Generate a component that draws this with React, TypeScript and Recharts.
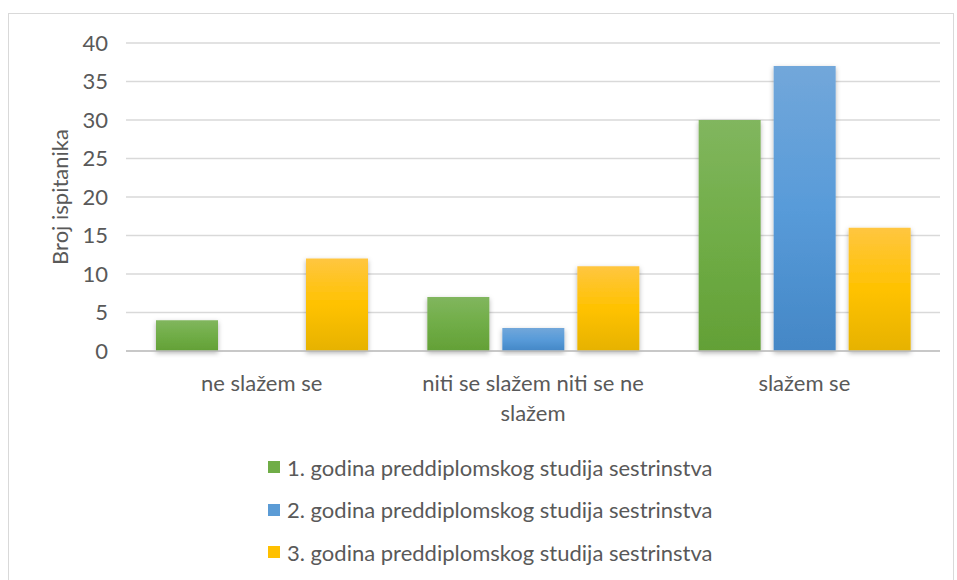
import { BarChart, Bar, XAxis, YAxis, CartesianGrid } from 'recharts';

const categories = ['ne slažem se', 'niti se slažem niti se ne slažem', 'slažem se'];
const prva = [4, 7, 30];
const druga = [0, 3, 37];
const treca = [12, 11, 16];
const seriesNames = [
  '1. godina preddiplomskog studija sestrinstva',
  '2. godina preddiplomskog studija sestrinstva',
  '3. godina preddiplomskog studija sestrinstva',
];
const yTicks = [0, 5, 10, 15, 20, 25, 30, 35, 40];

const data = categories.map((name, i) => ({
  name,
  prva: prva[i],
  druga: druga[i],
  treca: treca[i],
}));

const FONT = 'Lato, "Open Sans", sans-serif';
const TEXT = '#595959';
const FS = 22;

const legendColors = ['#70ad47', '#5b9bd5', '#ffc000'];

// Excel wraps the long category label into two lines
const wrapLines: Record<string, string[]> = {
  'niti se slažem niti se ne slažem': ['niti se slažem niti se ne', 'slažem'],
};

const CategoryTick = ({ x, y, payload }: any) => {
  const lines = wrapLines[payload.value] || [payload.value];
  return (
    <text x={x} y={y} textAnchor="middle" fill={TEXT} fontSize={FS} fontFamily={FONT}>
      {lines.map((l: string, i: number) => (
        <tspan key={i} x={x} dy={i === 0 ? 32 : 30}>
          {l}
        </tspan>
      ))}
    </text>
  );
};

export default function App() {
  return (
    <div style={{ position: 'absolute', left: 0, top: 0, width: 957, height: 580, background: '#fff' }}>
      <div
        style={{
          position: 'absolute',
          left: 8,
          top: 13,
          width: 946,
          height: 580,
          border: '1px solid #d9d9d9',
          boxSizing: 'border-box',
        }}
      />
      <BarChart
        width={957}
        height={580}
        data={data}
        margin={{ top: 43, right: 17, left: 0, bottom: 0 }}
        barSize={62}
        barGap={13}
        style={{ position: 'absolute', left: 0, top: 0 }}
      >
        <defs>
          <linearGradient id="gGreen" x1="0" y1="0" x2="0" y2="1">
            <stop offset="0%" stopColor="#81b65e" />
            <stop offset="50%" stopColor="#70ad47" />
            <stop offset="100%" stopColor="#63a036" />
          </linearGradient>
          <linearGradient id="gBlue" x1="0" y1="0" x2="0" y2="1">
            <stop offset="0%" stopColor="#72a7da" />
            <stop offset="50%" stopColor="#589bd9" />
            <stop offset="100%" stopColor="#4487c6" />
          </linearGradient>
          <linearGradient id="gYellow" x1="0" y1="0" x2="0" y2="1">
            <stop offset="0%" stopColor="#ffc640" />
            <stop offset="50%" stopColor="#ffc200" />
            <stop offset="100%" stopColor="#e6b200" />
          </linearGradient>
          <filter id="barShadow" x="-20%" y="-10%" width="140%" height="130%">
            <feDropShadow dx="0" dy="2" stdDeviation="2.5" floodColor="#000" floodOpacity="0.3" />
          </filter>
        </defs>
        <CartesianGrid vertical={false} stroke="#d9d9d9" strokeWidth={1.3} />
        <XAxis
          dataKey="name"
          axisLine={{ stroke: '#bfbfbf', strokeWidth: 1.3 }}
          tickLine={false}
          interval={0}
          tick={<CategoryTick />}
          height={229}
        />
        <YAxis
          width={126}
          domain={[0, 40]}
          ticks={yTicks}
          interval={0}
          axisLine={false}
          tickLine={false}
          tickSize={0}
          tickMargin={18}
          tick={{ fontSize: FS, fill: TEXT, fontFamily: FONT }}
          label={{
            value: 'Broj ispitanika',
            angle: -90,
            position: 'insideLeft',
            offset: 60,
            style: { fontSize: FS, fill: TEXT, fontFamily: FONT, textAnchor: 'middle' },
          }}
        />
        <Bar dataKey="prva" name={seriesNames[0]} fill="url(#gGreen)" filter="url(#barShadow)" isAnimationActive={false} />
        <Bar dataKey="druga" name={seriesNames[1]} fill="url(#gBlue)" filter="url(#barShadow)" isAnimationActive={false} />
        <Bar dataKey="treca" name={seriesNames[2]} fill="url(#gYellow)" filter="url(#barShadow)" isAnimationActive={false} />
      </BarChart>
      <div style={{ position: 'absolute', left: 268, top: 451, fontFamily: FONT, fontSize: FS, color: TEXT }}>
        {seriesNames.map((n, i) => (
          <div key={n} style={{ display: 'flex', alignItems: 'center', height: 32, marginBottom: 10.5 }}>
            <span style={{ width: 12, height: 12, background: legendColors[i], marginRight: 7, display: 'inline-block' }} />
            <span>{n}</span>
          </div>
        ))}
      </div>
    </div>
  );
}
